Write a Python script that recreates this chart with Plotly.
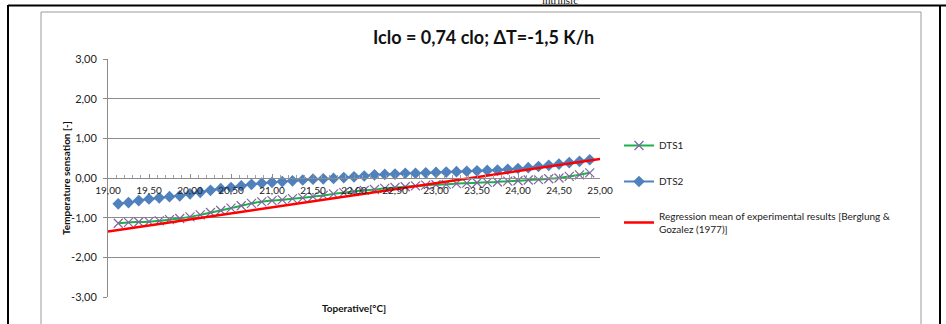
import plotly.graph_objects as go

# ---- data ----
temps = [19.125 + 0.125 * i for i in range(47)]  # operative temperature samples (°C)
dts1 = [-1.14, -1.12, -1.11, -1.10, -1.08, -1.05, -1.02, -0.98, -0.93, -0.87,
        -0.82, -0.76, -0.70, -0.64, -0.60, -0.57, -0.55, -0.52, -0.50, -0.47,
        -0.44, -0.40, -0.37, -0.34, -0.31, -0.29, -0.26, -0.24, -0.22, -0.20,
        -0.18, -0.17, -0.16, -0.14, -0.13, -0.12, -0.11, -0.10, -0.08, -0.07,
        -0.05, -0.04, -0.02, 0.00, 0.04, 0.08, 0.13]
dts2 = [-0.65, -0.62, -0.57, -0.53, -0.50, -0.47, -0.45, -0.40, -0.36, -0.31,
        -0.27, -0.24, -0.20, -0.16, -0.13, -0.11, -0.09, -0.07, -0.05, -0.03,
        -0.02, -0.01, 0.01, 0.03, 0.05, 0.08, 0.09, 0.10, 0.12, 0.12,
        0.13, 0.14, 0.15, 0.16, 0.17, 0.18, 0.19, 0.20, 0.22, 0.24,
        0.26, 0.29, 0.32, 0.35, 0.39, 0.42, 0.46]
reg_x = [19.0, 25.0]
reg_y = [-1.35, 0.48]

x_ticks = [19.0, 19.5, 20.0, 20.5, 21.0, 21.5, 22.0, 22.5, 23.0, 23.5, 24.0, 24.5, 25.0]
x_labels = ["19,00", "19,50", "20,00", "20,50", "21,00", "21,50", "22,00",
            "22,50", "23,00", "23,50", "24,00", "24,50", "25,00"]
y_ticks = [-3, -2, -1, 0, 1, 2, 3]
y_labels = ["-3,00", "-2,00", "-1,00", "0,00", "1,00", "2,00", "3,00"]

title_text = "<b>Iclo = 0,74 clo; ΔT=-1,5 K/h</b>"
names = ["DTS1", "DTS2", "Regression mean of experimental results [Berglung &<br>Gozalez (1977)]"]

W, H = 946, 324
px = lambda v: v / W
py = lambda v: 1 - v / H

FONT = "Lato, 'Open Sans', sans-serif"

fig = go.Figure()
fig.add_trace(go.Scatter(
    x=temps, y=dts1, name=names[0], mode="lines+markers",
    line=dict(color="#1DB04A", width=2, shape="spline", smoothing=0.6),
    marker=dict(symbol="x-thin", size=9, color="#8064A2",
                line=dict(color="#8064A2", width=1.2)),
    legendgroup="a"))
fig.add_trace(go.Scatter(
    x=temps, y=dts2, name=names[1], mode="lines+markers",
    line=dict(color="#4F81BD", width=2, shape="spline", smoothing=0.6),
    marker=dict(symbol="diamond", size=9, color="#4F81BD"),
    legendgroup="b"))
fig.add_trace(go.Scatter(
    x=reg_x, y=reg_y, name=names[2], mode="lines",
    line=dict(color="#FF0000", width=2.5),
    legendgroup="c"))

y0, y1 = py(297), py(59)
fig.update_layout(
    width=W, height=H,
    margin=dict(l=0, r=0, t=0, b=0, autoexpand=False),
    paper_bgcolor="white", plot_bgcolor="white",
    separators=",.",
    font=dict(family=FONT, size=10, color="#222222"),
    showlegend=True,
    legend=dict(x=px(619), y=py(131), xanchor="left", yanchor="top",
                font=dict(family=FONT, size=10, color="#222222"),
                tracegroupgap=17, bgcolor="rgba(0,0,0,0)"),
    xaxis=dict(domain=[px(108), px(600)], range=[19, 25],
               anchor="free", position=(y0 + y1) / 2,
               tickvals=x_ticks, ticktext=x_labels, ticklabelstandoff=3,
               showline=True, linecolor="#8c8c8c", linewidth=1,
               ticks="inside", ticklen=4, tickcolor="#8c8c8c",
               minor=dict(dtick=0.1, ticks="inside", ticklen=3, tickcolor="#a0a0a0"),
               showgrid=False, zeroline=False,
               tickfont=dict(family=FONT, size=10, color="#222222")),
    yaxis=dict(domain=[y0, y1], range=[-3, 3],
               tickvals=y_ticks, ticktext=y_labels, ticklabelstandoff=4,
               showline=True, linecolor="#8c8c8c", linewidth=1,
               ticks="outside", ticklen=4, tickcolor="#8c8c8c",
               showgrid=True, gridcolor="#8c8c8c", gridwidth=1,
               zeroline=False,
               tickfont=dict(family=FONT, size=11, color="#222222")),
)

ann = dict(xref="paper", yref="paper", showarrow=False, xanchor="center", yanchor="middle")
# Chart title and axis titles
fig.add_annotation(text=title_text, x=px(483), y=py(37),
                   font=dict(family=FONT, size=18, color="#111111"), **ann)
fig.add_annotation(text="<b>Temperature sensation [-]</b>", x=px(66), y=py(178), textangle=-90,
                   font=dict(family=FONT, size=10, color="#111111"), **ann)
fig.add_annotation(text="<b>Toperative[°C]</b>", x=px(354), y=py(308),
                   font=dict(family=FONT, size=10, color="#111111"), **ann)
# cut-off caption remnant at the very top
fig.add_annotation(text="intrinsic", x=px(560), y=py(0),
                   font=dict(family="Liberation Serif", size=11, color="#111111"), **ann)

# document frame and chart-area border
fig.add_shape(type="line", xref="paper", yref="paper", x0=px(8), x1=1, y0=py(5.5), y1=py(5.5),
              line=dict(color="black", width=2))
fig.add_shape(type="line", xref="paper", yref="paper", x0=px(8), x1=px(8), y0=py(5), y1=0,
              line=dict(color="black", width=2))
fig.add_shape(type="line", xref="paper", yref="paper", x0=px(940), x1=px(940), y0=py(5), y1=0,
              line=dict(color="black", width=2))
fig.add_shape(type="rect", xref="paper", yref="paper", x0=px(41), x1=px(921), y0=-0.05, y1=py(12),
              line=dict(color="#9a9a9a", width=1))

fig.write_html("out.html", config={"displayModeBar": False},
               post_script="document.body.style.margin='0';document.body.style.overflow='hidden';")
